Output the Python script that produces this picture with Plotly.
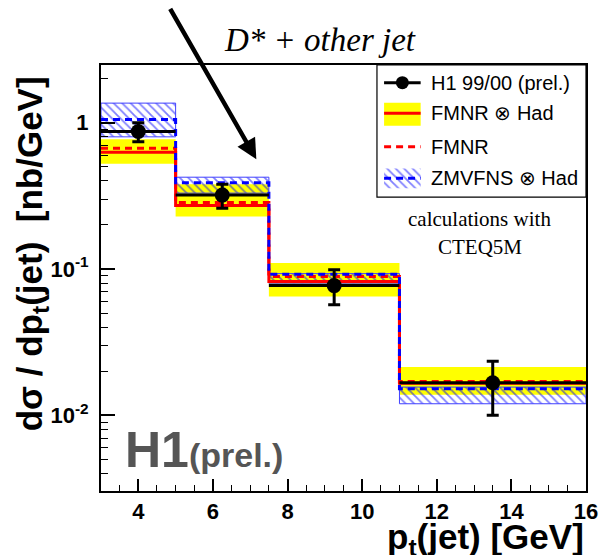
import plotly.graph_objects as go

# ---- binning and measurement -------------------------------------------
bin_edges = [3.0, 5.0, 7.5, 11.0, 16.0]
data_val = [0.87, 0.32, 0.077, 0.0167]
data_err_up = [0.13, 0.06, 0.022, 0.0067]
data_err_dn = [0.13, 0.06, 0.020, 0.0067]

# ---- FMNR (x) Had : central value and uncertainty band ------------------
fmnr_had = [0.628, 0.272, 0.082, 0.0166]
fmnr_had_lo = [0.523, 0.228, 0.065, 0.0138]
fmnr_had_hi = [0.770, 0.380, 0.110, 0.0214]

# ---- FMNR (partons) -----------------------------------------------------
fmnr = [0.668, 0.285, 0.089, 0.0170]

# ---- ZMVFNS (x) Had : central value and band ----------------------------
zmvfns = [1.05, 0.389, 0.092, 0.0152]
zmvfns_lo = [0.80, 0.330, 0.080, 0.0120]
zmvfns_hi = [1.36, 0.424, 0.093, 0.0156]

x_ticks = [4, 6, 8, 10, 12, 14, 16]
y_ticks = [0.01, 0.1, 1]
y_ticktext = ["10<sup>-2</sup>", "10<sup>-1</sup>", "1"]
y_minor = [k * 0.001 for k in range(4, 10)] + [k * 0.01 for k in range(2, 10)] + \
          [k * 0.1 for k in range(2, 10)] + [2]

legend_labels = ["H1 99/00 (prel.)", "FMNR \u2297 Had", "FMNR", "ZMVFNS \u2297 Had"]

YELLOW = "#ffff00"
RED = "#ff0000"
BLUE = "#0000ff"
SANS = "Liberation Sans, Arial, sans-serif"
SERIF = "Liberation Serif, Times New Roman, serif"
HATCH = dict(shape="\\", fgcolor=BLUE, bgcolor="rgba(0,0,0,0)", size=6, solidity=0.3)
NB = "\u00a0"

centers = [(a + b) / 2 for a, b in zip(bin_edges[:-1], bin_edges[1:])]
halfw = [(b - a) / 2 for a, b in zip(bin_edges[:-1], bin_edges[1:])]


def step(vals):
    return list(bin_edges), list(vals) + [vals[-1]]


fig = go.Figure()

# yellow FMNR(x)Had band
for i in range(len(fmnr_had)):
    a, b = bin_edges[i], bin_edges[i + 1]
    fig.add_trace(go.Scatter(
        x=[a, b, b, a, a], y=[fmnr_had_lo[i], fmnr_had_lo[i], fmnr_had_hi[i], fmnr_had_hi[i], fmnr_had_lo[i]],
        mode="lines", fill="toself", fillcolor=YELLOW, line=dict(width=0, color=YELLOW),
        showlegend=False, hoverinfo="skip"))

# hatched ZMVFNS band
for i in range(len(zmvfns)):
    a, b = bin_edges[i], bin_edges[i + 1]
    fig.add_trace(go.Scatter(
        x=[a, b, b, a, a], y=[zmvfns_lo[i], zmvfns_lo[i], zmvfns_hi[i], zmvfns_hi[i], zmvfns_lo[i]],
        mode="lines", fill="toself", fillcolor="rgba(0,0,0,0)", fillpattern=HATCH,
        line=dict(width=1, color="#4040ff"),
        showlegend=False, hoverinfo="skip"))

# central values as step histograms
sx, sy = step(fmnr_had)
fig.add_trace(go.Scatter(x=sx, y=sy, mode="lines", line=dict(color=RED, width=3, shape="hv"),
                         showlegend=False))
sx, sy = step(fmnr)
fig.add_trace(go.Scatter(x=sx, y=sy, mode="lines", line=dict(color=RED, width=3, shape="hv", dash="7px,5px"),
                         showlegend=False))
sx, sy = step(zmvfns)
fig.add_trace(go.Scatter(x=sx, y=sy, mode="lines", line=dict(color=BLUE, width=3, shape="hv", dash="7px,5px"),
                         showlegend=False))

# H1 data
fig.add_trace(go.Scatter(
    x=centers, y=data_val, mode="markers",
    marker=dict(color="black", size=15, symbol="circle"),
    error_x=dict(type="data", array=halfw, color="black", thickness=3, width=0),
    error_y=dict(type="data", array=data_err_up, arrayminus=data_err_dn, symmetric=False,
                 color="black", thickness=3, width=6),
    showlegend=False))

# ---- hand-drawn legend on an overlay axis (0..1 box coordinates) --------
row_y = [0.866, 0.634, 0.381, 0.142]
sym_x0, sym_x1 = 0.034, 0.209
text_x = 0.249

fig.add_trace(go.Scatter(x=[sym_x0, sym_x1], y=[row_y[0]] * 2, mode="lines",
                         line=dict(color="black", width=3), xaxis="x2", yaxis="y2", showlegend=False))
fig.add_trace(go.Scatter(x=[(sym_x0 + sym_x1) / 2], y=[row_y[0]], mode="markers",
                         marker=dict(color="black", size=13), xaxis="x2", yaxis="y2", showlegend=False))
fig.add_trace(go.Scatter(x=[sym_x0, sym_x1, sym_x1, sym_x0, sym_x0],
                         y=[0.540, 0.540, 0.714, 0.714, 0.540], mode="lines", fill="toself",
                         fillcolor=YELLOW, line=dict(width=0, color=YELLOW),
                         xaxis="x2", yaxis="y2", showlegend=False))
fig.add_trace(go.Scatter(x=[sym_x0, sym_x1], y=[row_y[1]] * 2, mode="lines",
                         line=dict(color=RED, width=3), xaxis="x2", yaxis="y2", showlegend=False))
fig.add_trace(go.Scatter(x=[sym_x0, sym_x1], y=[row_y[2]] * 2, mode="lines",
                         line=dict(color=RED, width=3, dash="7px,5px"), xaxis="x2", yaxis="y2",
                         showlegend=False))
fig.add_trace(go.Scatter(x=[sym_x0, sym_x1, sym_x1, sym_x0, sym_x0],
                         y=[0.066, 0.066, 0.217, 0.217, 0.066], mode="lines", fill="toself",
                         fillcolor="rgba(0,0,0,0)", fillpattern=HATCH,
                         line=dict(width=0, color=BLUE), xaxis="x2", yaxis="y2", showlegend=False))
fig.add_trace(go.Scatter(x=[sym_x0, sym_x1], y=[row_y[3]] * 2, mode="lines",
                         line=dict(color=BLUE, width=3, dash="7px,5px"), xaxis="x2", yaxis="y2",
                         showlegend=False))

annotations = []
for lbl, ry in zip(legend_labels, row_y):
    annotations.append(dict(xref="x2", yref="y2", x=text_x, y=ry, text=lbl, showarrow=False,
                            xanchor="left", yanchor="middle",
                            font=dict(family=SANS, size=20, color="black")))

y_title = "<b>d\u03c3 / dp<sub>t</sub>(jet)" + NB * 2 + "[nb/GeV]</b>"

# titles and labels
annotations += [
    dict(xref="paper", yref="paper", x=1.0, y=-0.113, xanchor="right", yanchor="middle",
         text="<b>p<sub>t</sub>(jet) [GeV]</b>", showarrow=False,
         font=dict(family=SANS, size=35, color="black")),
    dict(xref="paper", yref="paper", x=-0.142, y=0.556, xanchor="center", yanchor="middle",
         textangle=-90, text=y_title, showarrow=False,
         font=dict(family=SANS, size=35, color="black")),
    dict(xref="paper", yref="paper", x=0.0455, y=0.097, xanchor="left", yanchor="middle",
         text="<b>H1<span style='font-size:34px'>(prel.)</span></b>", showarrow=False,
         font=dict(family=SANS, size=50, color="#555555")),
    dict(xref="paper", yref="paper", x=0.4515, y=1.059, xanchor="center", yanchor="middle",
         text="<i>D* + other jet</i>", showarrow=False,
         font=dict(family=SERIF, size=33, color="black")),
    dict(xref="paper", yref="paper", x=0.781, y=0.638, xanchor="center", yanchor="middle",
         text="calculations with", showarrow=False,
         font=dict(family=SERIF, size=21, color="black")),
    dict(xref="paper", yref="paper", x=0.781, y=0.572, xanchor="center", yanchor="middle",
         text="CTEQ5M", showarrow=False,
         font=dict(family=SERIF, size=21, color="black")),
    # arrow pointing at the jet selection
    dict(xref="paper", yref="paper", x=0.3203, y=0.7786, ax=-87, ay=-152, text="",
         showarrow=True, arrowhead=2, arrowsize=0.9, arrowwidth=4.5, arrowcolor="black"),
]

fig.update_layout(
    width=602, height=555,
    margin=dict(l=101, r=16, t=65, b=64, autoexpand=False),
    paper_bgcolor="white", plot_bgcolor="white",
    showlegend=False,
    annotations=annotations,
    shapes=[dict(type="rect", xref="paper", yref="paper", x0=0.569, x1=1.0, y0=0.690, y1=1.0,
                 line=dict(color="black", width=1.2), fillcolor="rgba(0,0,0,0)")],
    xaxis=dict(range=[3, 16], tickvals=x_ticks, ticks="inside", ticklen=12, tickwidth=1.5,
               tickcolor="black", showgrid=False, zeroline=False, automargin=False,
               showline=True, linecolor="black", linewidth=2, mirror=True,
               tickfont=dict(family=SANS, size=22, color="black", weight="bold"),
               minor=dict(dtick=0.5, tick0=3, ticks="inside", ticklen=6, tickwidth=1.2,
                          tickcolor="black", showgrid=False)),
    yaxis=dict(type="log", range=[-2.517, 0.394], tickvals=y_ticks, ticktext=y_ticktext,
               ticks="inside", ticklen=14, tickwidth=1.5, tickcolor="black",
               showgrid=False, zeroline=False, automargin=False,
               showline=True, linecolor="black", linewidth=2, mirror=True,
               ticklabelstandoff=6,
               tickfont=dict(family=SANS, size=22, color="black", weight="bold"),
               minor=dict(tickvals=y_minor, ticks="inside", ticklen=7, tickwidth=1.2,
                          tickcolor="black", showgrid=False)),
    xaxis2=dict(domain=[0.569, 1.0], range=[0, 1], visible=False, anchor="y2", fixedrange=True),
    yaxis2=dict(domain=[0.690, 1.0], range=[0, 1], visible=False, anchor="x2", fixedrange=True),
)

fig.write_html("out.html")
